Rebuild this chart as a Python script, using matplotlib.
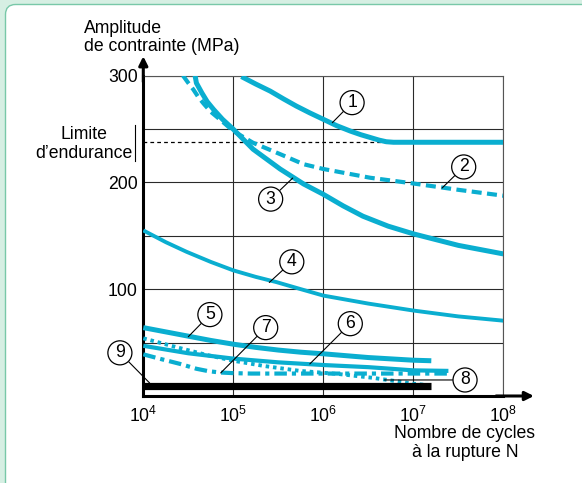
import numpy as np
import matplotlib
matplotlib.use("Agg")
import matplotlib.pyplot as plt
from matplotlib.patches import FancyBboxPatch
from matplotlib.lines import Line2D

plt.rcParams['font.family'] = ['Liberation Sans', 'DejaVu Sans']
plt.rcParams['mathtext.fontset'] = 'custom'
plt.rcParams['mathtext.rm'] = 'Liberation Sans'

# Courbes de Wöhler : log10(N) et amplitude (MPa)
c1_logn = [5.09, 5.25, 5.41, 5.56, 5.70, 5.85, 6.0, 6.15, 6.3, 6.42, 6.52, 6.62, 6.70, 6.78, 8.0]
c1_mpa = [299, 292, 285.4, 278, 271.4, 265, 259, 253, 248, 244.5, 242, 239.5, 238, 237.5, 237.5]

c2_logn = [4.44, 4.5, 4.555, 4.61, 4.667, 4.75, 4.85, 5.0, 5.22, 5.52, 5.78, 6.0, 6.52, 6.96, 7.5, 8.0]
c2_mpa = [300, 293, 287, 280, 274, 266, 259, 248, 237, 226.4, 217, 212.5, 204.3, 199.4, 193, 187.5]

c3_logn = [4.575, 4.59, 4.65, 4.71, 4.78, 4.88, 5.0, 5.22, 5.52, 5.78, 6.0, 6.22, 6.44, 6.72, 7.0, 7.5, 8.0]
c3_mpa = [300, 293, 283.8, 275.5, 268.3, 259, 249.7, 231, 212.5, 198.5, 188.8, 178, 168.3, 159, 151.8, 141, 133]

c4_logn = [4.0, 4.25, 4.48, 4.75, 5.0, 5.25, 5.48, 5.75, 6.0, 6.5, 7.0, 7.5, 8.0]
c4_mpa = [155, 144, 135, 125.5, 117.6, 111.5, 106.6, 100, 94, 86.5, 80, 74.5, 70.5]

c5_logn = [4.0, 4.25, 4.5, 4.75, 5.0, 5.25, 5.5, 5.75, 6.0, 6.5, 7.0, 7.2]
c5_mpa = [64, 60, 56, 52, 48.5, 45.5, 43, 41, 39.5, 36, 33.5, 33]

c6_logn = [4.0, 4.25, 4.5, 4.75, 5.0, 5.5, 6.0, 6.5, 7.0, 7.39]
c6_mpa = [47, 43.5, 40, 37.5, 35, 31.5, 29, 27, 24, 23.5]

c7_logn = [4.0, 4.2, 4.41, 4.59, 4.72, 4.85, 5.0, 5.2, 6.0, 7.0, 7.39]
c7_mpa = [39, 34.5, 30, 25.5, 23.3, 22, 21.4, 21, 21, 21, 21]

c8_logn = [4.0, 4.2, 4.4, 4.7, 5.0, 5.35, 5.74, 6.18, 6.55, 6.8, 7.0, 7.18]
c8_mpa = [54, 49.5, 45, 38.5, 33, 28, 23.5, 20.5, 17, 14, 11.5, 10]

c9_logn = [4.0, 7.2]
c9_mpa = [9.5, 9.5]

endurance_logn = [4.0, 6.74]
endurance_mpa = 237.3

y_ticks = [50, 100, 150, 200, 250, 300]
y_labels = ['', '100', '', '200', '', '300']
x_ticks = [1e4, 1e5, 1e6, 1e7, 1e8]
x_labels = [r'$\mathregular{10^{4}}$', r'$\mathregular{10^{5}}$', r'$\mathregular{10^{6}}$',
            r'$\mathregular{10^{7}}$', r'$\mathregular{10^{8}}$']

cyan = '#0aaed0'
W, H = 582, 483
fs = 12.7

fig = plt.figure(figsize=(W / 100, H / 100), dpi=100)
fig.patch.set_facecolor('#d6efe3')

# panneau blanc aux coins arrondis
panel = FancyBboxPatch((0.055, -0.3), 6.5, 4.785 + 0.3, boxstyle="round,pad=0,rounding_size=0.1",
                       transform=fig.dpi_scale_trans, fc='white', ec='#78c8a8', lw=1.0, zorder=-5)
fig.patches.append(panel)

ax = fig.add_axes([143.3 / W, 1 - 396 / H, (503.3 - 143.3) / W, (396 - 75.5) / H])
ax.set_facecolor('white')
ax.set_xscale('log')
ax.set_xlim(1e4, 1e8)
ax.set_ylim(0, 300)

ax.set_yticks(y_ticks)
ax.set_yticklabels(y_labels, fontsize=fs)
ax.set_xticks(x_ticks)
ax.set_xticklabels(x_labels, fontsize=fs)
ax.xaxis.set_minor_locator(matplotlib.ticker.NullLocator())
ax.tick_params(length=0, pad=4)
ax.tick_params(axis='x', pad=7)
ax.grid(True, color='#2a2a2a', lw=0.8)
ax.set_axisbelow(True)

for side in ['top', 'right']:
    ax.spines[side].set_color('#555555')
    ax.spines[side].set_linewidth(0.8)
for side in ['left', 'bottom']:
    ax.spines[side].set_linewidth(2.2)

# flèches des axes
ax.annotate('', xy=(1.085, 0), xytext=(0.98, 0), xycoords='axes fraction',
            arrowprops=dict(arrowstyle='-|>', color='k', lw=2.2, mutation_scale=13, shrinkA=0, shrinkB=0))
ax.annotate('', xy=(0, 1.06), xytext=(0, 0.98), xycoords='axes fraction',
            arrowprops=dict(arrowstyle='-|>', color='k', lw=2.2, mutation_scale=13, shrinkA=0, shrinkB=0))

# limite d'endurance
ax.plot(np.power(10.0, endurance_logn), [endurance_mpa] * 2, color='k', lw=0.9, ls=(0, (3, 2.5)), zorder=2)

def curve(logn, mpa, **kw):
    ax.plot(np.power(10.0, logn), mpa, color=cyan, solid_capstyle='butt', dash_capstyle='butt',
            solid_joinstyle='round', clip_on=True, zorder=3, **kw)

curve(c1_logn, c1_mpa, lw=3.6)
curve(c2_logn, c2_mpa, lw=3.0, ls=(0, (2.4, 1.3)))
curve(c3_logn, c3_mpa, lw=3.6)
curve(c4_logn, c4_mpa, lw=2.8)
curve(c5_logn, c5_mpa, lw=3.6)
curve(c6_logn, c6_mpa, lw=3.0)
curve(c7_logn, c7_mpa, lw=3.0, ls=(0, (3, 1.2, 1, 1.2)))
curve(c8_logn, c8_mpa, lw=2.8, ls=(0, (0.9, 1.0)))
ax.plot(np.power(10.0, c9_logn), c9_mpa, color='k', lw=5.2, solid_capstyle='butt', zorder=4)

# repères numérotés
labels = [
    ('1', (6.32, 274.6), (6.10, 255.8)),
    ('2', (7.56, 214.4), (7.32, 194.7)),
    ('3', (5.415, 184.3), (5.66, 204)),
    ('4', (5.65, 125.6), (5.40, 106.3)),
    ('5', (4.74, 76.2), (4.50, 55.5)),
    ('6', (6.30, 67.7), (5.85, 30)),
    ('7', (5.36, 64), (4.86, 21.6)),
    ('8', (7.575, 15), (6.68, 15)),
    ('9', (3.74, 40.4), (4.07, 12.2)),
]
for txt, (tx, ty), (px, py) in labels:
    ax.annotate(txt, xy=(10 ** px, py), xytext=(10 ** tx, ty), ha='center', va='center',
                fontsize=fs, annotation_clip=False, zorder=6,
                bbox=dict(boxstyle='circle,pad=0.2', fc='white', ec='k', lw=0.9),
                arrowprops=dict(arrowstyle='-', color='k', lw=0.8, shrinkA=0, shrinkB=0))

# textes
fig.text(84 / W, 1 - 37.5 / H, "Amplitude\nde contrainte (MPa)", ha='left', va='center', fontsize=fs,
         linespacing=1.15)
fig.text(465 / W, 1 - 443 / H, "Nombre de cycles\nà la rupture N", ha='center', va='center',
         fontsize=fs, linespacing=1.15)
fig.text(84 / W, 1 - 144 / H, "Limite\nd’endurance", ha='center', va='center', fontsize=fs,
         multialignment='center', linespacing=1.15)
fig.lines.append(Line2D([135 / W, 135 / W], [1 - 125 / H, 1 - 161 / H], transform=fig.transFigure,
                        color='k', lw=0.8))

fig.savefig('out.png', dpi=100, facecolor=fig.get_facecolor())
